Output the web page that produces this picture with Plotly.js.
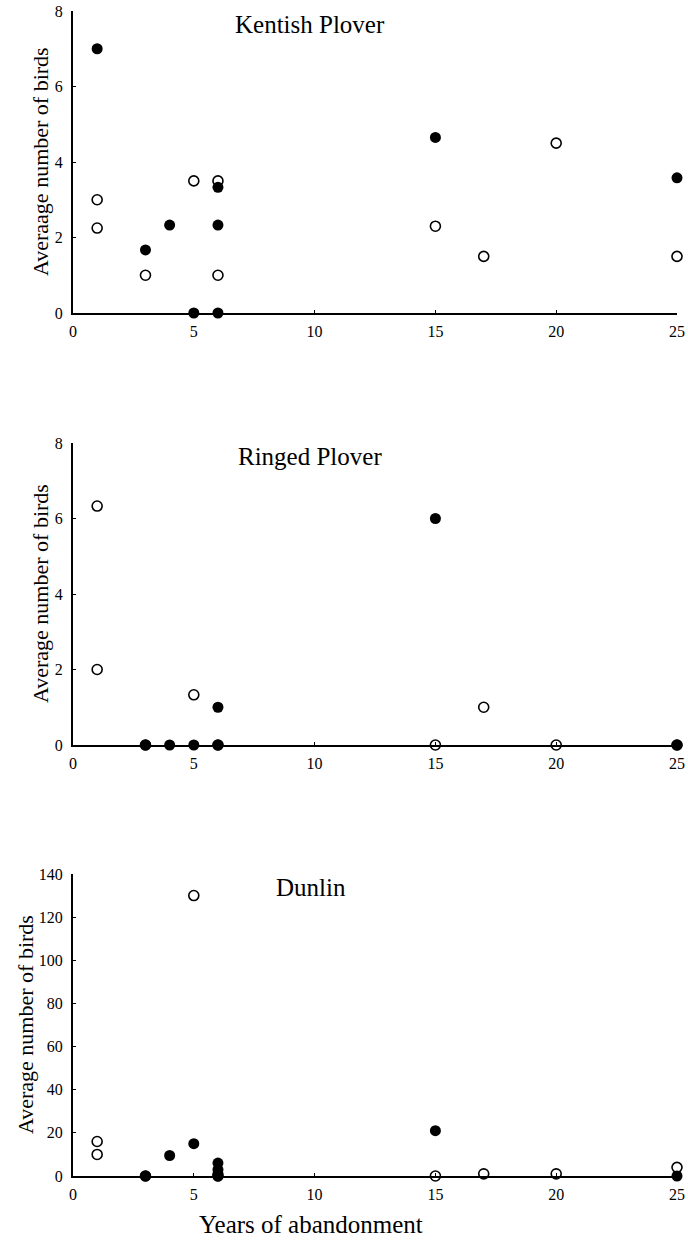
<!DOCTYPE html>
<html><head><meta charset="utf-8">
<script src="https://cdn.plot.ly/plotly-3.0.1.min.js"></script>
<style>body{margin:0;background:#fff;} #chart{width:688px;height:1247px;}</style>
</head><body><div id="chart"></div>
<script>
const panelTitles = ["Kentish Plover", "Ringed Plover", "Dunlin"];
const yTitles = ["Averaage number of birds", "Average number of birds", "Average number of birds"];
const xTitle = "Years of abandonment";
const xTicks = [0, 5, 10, 15, 20, 25];
const yTicksPlover = [0, 2, 4, 6, 8];
const yTicksDunlin = [0, 20, 40, 60, 80, 100, 120, 140];

const kentishOpenX = [1, 1, 3, 5, 6, 6, 15, 17, 20, 25];
const kentishOpenY = [3, 2.25, 1, 3.5, 3.5, 1, 2.3, 1.5, 4.5, 1.5];
const kentishFilledX = [1, 3, 4, 5, 6, 6, 6, 15, 25];
const kentishFilledY = [7, 1.67, 2.33, 0, 3.33, 2.33, 0, 4.65, 3.58];

const ringedOpenX = [1, 1, 3, 5, 6, 15, 17, 20, 25];
const ringedOpenY = [6.33, 2, 0, 1.33, 0, 0, 1, 0, 0];
const ringedFilledX = [3, 4, 5, 6, 6, 15, 25];
const ringedFilledY = [0, 0, 0, 1, 0, 6, 0];

const dunlinOpenX = [1, 1, 3, 5, 6, 15, 17, 20, 25];
const dunlinOpenY = [16, 10, 0, 130, 0, 0, 1, 1, 4];
const dunlinFilledX = [3, 4, 5, 6, 6, 6, 6, 15, 25];
const dunlinFilledY = [0, 9.5, 15, 6, 3, 1, 0, 21, 0];

const openSets = [[kentishOpenX, kentishOpenY], [ringedOpenX, ringedOpenY], [dunlinOpenX, dunlinOpenY]];
const filledSets = [[kentishFilledX, kentishFilledY], [ringedFilledX, ringedFilledY], [dunlinFilledX, dunlinFilledY]];

const FONT = "'Liberation Serif', 'Times New Roman', serif";
const traces = [];
const suffix = ["", "2", "3"];
for (let i = 0; i < 3; i++) {
  traces.push({
    type: "scatter", mode: "markers", x: openSets[i][0], y: openSets[i][1],
    xaxis: "x" + suffix[i], yaxis: "y" + suffix[i], cliponaxis: false, showlegend: false,
    marker: {symbol: "circle-open", size: 10, color: "#000", line: {width: 1.6, color: "#000"}}
  });
  traces.push({
    type: "scatter", mode: "markers", x: filledSets[i][0], y: filledSets[i][1],
    xaxis: "x" + suffix[i], yaxis: "y" + suffix[i], cliponaxis: false, showlegend: false,
    marker: {symbol: "circle", size: 11, color: "#000", line: {width: 0}}
  });
}

const H = 1165;
const domains = [[1 - 302 / H, 1], [1 - 734 / H, 1 - 432 / H], [0, 1 - 863 / H]];
const layout = {
  width: 688, height: 1247,
  margin: {l: 73, r: 11, t: 11, b: 71},
  paper_bgcolor: "#fff", plot_bgcolor: "#fff",
  font: {family: FONT, color: "#000", size: 16},
  showlegend: false,
  annotations: []
};
const titleX = [(233 - 73) / 604, (235.7 - 73) / 604, (274 - 73) / 604];
const yTitleX = [40, 40, 25];
for (let i = 0; i < 3; i++) {
  const xa = "xaxis" + suffix[i], ya = "yaxis" + suffix[i];
  layout[xa] = {
    domain: [0, 1], anchor: "y" + suffix[i], range: [0, 25],
    tickmode: "array", tickvals: xTicks, ticktext: xTicks.map(String),
    ticks: "inside", ticklen: 3, tickwidth: 1, tickcolor: "#000",
    showline: true, linecolor: "#000", linewidth: 2,
    showgrid: false, zeroline: false, fixedrange: true, ticklabelstandoff: 3,
    tickfont: {family: FONT, size: 16, color: "#000"}
  };
  const yt = i < 2 ? yTicksPlover : yTicksDunlin;
  layout[ya] = {
    domain: domains[i], anchor: "x" + suffix[i], range: [0, yt[yt.length - 1]],
    tickmode: "array", tickvals: yt, ticktext: yt.map(String),
    ticks: "inside", ticklen: 3, tickwidth: 1, tickcolor: "#000",
    showline: true, linecolor: "#000", linewidth: 2,
    showgrid: false, zeroline: false, fixedrange: true, ticklabelstandoff: 5,
    tickfont: {family: FONT, size: 16, color: "#000"}
  };
  layout.annotations.push({
    text: panelTitles[i], xref: "x" + suffix[i] + " domain", yref: "y" + suffix[i] + " domain",
    x: titleX[i], y: 1 - 13 / 302, xanchor: "left", yanchor: "middle", showarrow: false,
    font: {family: FONT, size: 25, color: "#000"}
  });
  layout.annotations.push({
    text: yTitles[i], xref: "x" + suffix[i] + " domain", yref: "y" + suffix[i] + " domain",
    x: (yTitleX[i] - 73) / 604, y: 0.5, xanchor: "center", yanchor: "middle", textangle: -90, showarrow: false,
    font: {family: FONT, size: 22, color: "#000"}
  });
}
layout.annotations.push({
  text: xTitle, xref: "paper", yref: "paper",
  x: (311 - 73) / 604, y: -(1224 - 1176) / H, xanchor: "center", yanchor: "middle", showarrow: false,
  font: {family: FONT, size: 25, color: "#000"}
});

Plotly.newPlot("chart", traces, layout, {displayModeBar: false, staticPlot: true});
</script>
</body></html>
